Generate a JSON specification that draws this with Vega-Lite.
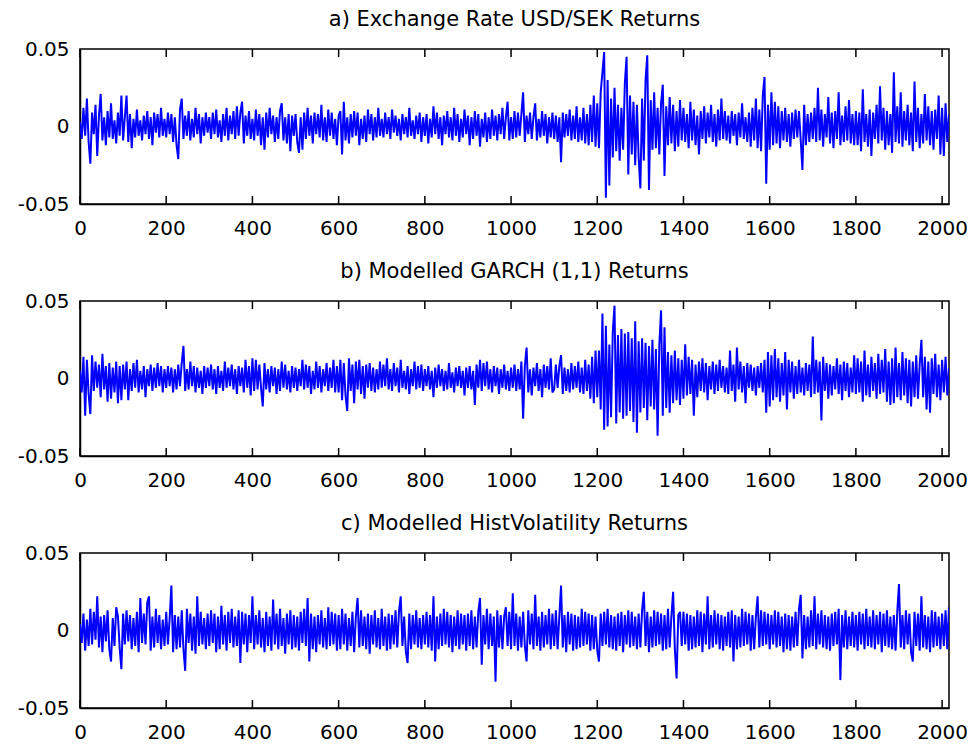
{
"$schema": "https://vega.github.io/schema/vega-lite/v6.json",
"background": "white",
"padding": {"left": 16, "top": 8, "right": 6, "bottom": 4},
"bounds": "flush",
"spacing": 97,
"config": {
"view": {"stroke": "black", "strokeWidth": 1.5},
"font": "DejaVu Sans",
"title": {"font": "DejaVu Sans", "fontSize": 21, "fontWeight": "normal", "color": "black", "offset": 9, "anchor": "middle"},
"axis": {"labelFont": "DejaVu Sans", "labelFontSize": 20, "labelColor": "black", "domainColor": "black", "domainWidth": 1.5, "ticks": false, "grid": false, "labelFlush": false, "labelOverlap": false}
},
"datasets": {
"ticks": [{"t":0},{"t":200},{"t":400},{"t":600},{"t":800},{"t":1000},{"t":1200},{"t":1400},{"t":1600},{"t":1800},{"t":2000}]
},
"data": {"values": [
{"x":0,"a":0.003,"b":0.005,"c":0.004},{"x":4,"a":-0.008,"b":-0.009,"c":-0.008},{"x":8,"a":0.012,"b":0.014,"c":0.011},{"x":12,"a":-0.006,"b":-0.024,"c":-0.013},{"x":16,"a":0.018,"b":0.012,"c":0.007},{"x":20,"a":-0.01,"b":-0.01,"c":-0.01},{"x":24,"a":-0.024,"b":-0.023,"c":0.014},{"x":28,"a":0.009,"b":0.015,"c":-0.009},{"x":32,"a":-0.005,"b":-0.008,"c":0.012},{"x":36,"a":0.014,"b":0.011,"c":-0.006},{"x":40,"a":-0.019,"b":-0.006,"c":0.022},{"x":44,"a":0.007,"b":0.009,"c":-0.011},{"x":48,"a":0.021,"b":-0.012,"c":0.009},{"x":52,"a":-0.009,"b":0.016,"c":-0.014},{"x":56,"a":0.006,"b":-0.007,"c":0.01},{"x":60,"a":-0.012,"b":0.008,"c":-0.007},{"x":64,"a":0.01,"b":-0.015,"c":0.013},{"x":68,"a":-0.007,"b":0.01,"c":-0.012},{"x":72,"a":0.015,"b":-0.013,"c":-0.02},{"x":76,"a":-0.008,"b":0.007,"c":0.008},{"x":80,"a":0.004,"b":-0.009,"c":-0.01},{"x":84,"a":-0.011,"b":0.011,"c":0.015},{"x":88,"a":0.009,"b":-0.016,"c":0.009},{"x":92,"a":-0.006,"b":0.008,"c":-0.011},{"x":96,"a":0.02,"b":-0.014,"c":-0.025},
{"x":100,"a":-0.009,"b":0.009,"c":0.011},{"x":104,"a":0.006,"b":-0.007,"c":-0.009},{"x":108,"a":0.02,"b":0.011,"c":0.013},{"x":112,"a":-0.01,"b":-0.014,"c":-0.007},{"x":116,"a":0.008,"b":0.006,"c":0.01},{"x":120,"a":-0.014,"b":-0.008,"c":-0.012},{"x":124,"a":0.005,"b":0.01,"c":0.008},{"x":128,"a":-0.007,"b":-0.006,"c":-0.01},{"x":132,"a":0.011,"b":0.012,"c":0.012},{"x":136,"a":-0.006,"b":-0.009,"c":-0.014},{"x":140,"a":0.004,"b":0.005,"c":0.021},{"x":144,"a":-0.009,"b":-0.007,"c":-0.008},{"x":148,"a":0.007,"b":0.008,"c":0.011},{"x":152,"a":-0.005,"b":-0.012,"c":-0.009},{"x":156,"a":0.01,"b":0.006,"c":0.018},{"x":160,"a":-0.008,"b":-0.005,"c":0.022},{"x":164,"a":0.006,"b":0.009,"c":-0.013},{"x":168,"a":-0.012,"b":-0.008,"c":0.009},{"x":172,"a":0.009,"b":0.007,"c":-0.011},{"x":176,"a":-0.004,"b":-0.006,"c":0.014},{"x":180,"a":0.008,"b":0.01,"c":-0.008},{"x":184,"a":-0.007,"b":-0.005,"c":0.01},{"x":188,"a":0.012,"b":0.008,"c":-0.012},{"x":192,"a":-0.006,"b":-0.009,"c":0.007},{"x":196,"a":0.005,"b":0.006,"c":-0.01},
{"x":200,"a":-0.007,"b":-0.006,"c":0.012},{"x":204,"a":0.009,"b":0.008,"c":-0.009},{"x":208,"a":-0.005,"b":-0.005,"c":0.008},{"x":212,"a":0.008,"b":0.007,"c":0.029},{"x":216,"a":-0.01,"b":-0.009,"c":-0.014},{"x":220,"a":0.006,"b":0.006,"c":0.01},{"x":224,"a":-0.012,"b":-0.007,"c":-0.012},{"x":228,"a":-0.021,"b":0.009,"c":0.009},{"x":232,"a":0.011,"b":-0.005,"c":-0.011},{"x":236,"a":0.018,"b":0.01,"c":0.013},{"x":240,"a":-0.008,"b":0.021,"c":-0.012},{"x":244,"a":0.007,"b":-0.008,"c":-0.026},{"x":248,"a":-0.006,"b":0.006,"c":0.014},{"x":252,"a":0.01,"b":-0.007,"c":-0.008},{"x":256,"a":-0.009,"b":0.011,"c":0.011},{"x":260,"a":0.005,"b":-0.005,"c":-0.013},{"x":264,"a":-0.007,"b":0.008,"c":0.009},{"x":268,"a":0.012,"b":-0.009,"c":-0.015},{"x":272,"a":-0.005,"b":0.007,"c":0.022},{"x":276,"a":0.008,"b":-0.006,"c":-0.01},{"x":280,"a":-0.011,"b":0.005,"c":0.012},{"x":284,"a":0.006,"b":-0.01,"c":-0.009},{"x":288,"a":-0.006,"b":0.008,"c":0.008},{"x":292,"a":0.009,"b":-0.006,"c":-0.012},{"x":296,"a":-0.004,"b":0.007,"c":0.011},
{"x":300,"a":0.006,"b":-0.005,"c":-0.01},{"x":304,"a":-0.008,"b":0.009,"c":0.013},{"x":308,"a":0.009,"b":-0.007,"c":-0.008},{"x":312,"a":-0.005,"b":0.006,"c":0.011},{"x":316,"a":0.011,"b":-0.01,"c":-0.014},{"x":320,"a":-0.007,"b":0.008,"c":0.009},{"x":324,"a":0.004,"b":-0.006,"c":-0.012},{"x":328,"a":-0.01,"b":0.005,"c":0.016},{"x":332,"a":0.008,"b":-0.008,"c":-0.009},{"x":336,"a":-0.006,"b":0.011,"c":0.01},{"x":340,"a":0.012,"b":-0.006,"c":-0.013},{"x":344,"a":-0.009,"b":0.007,"c":0.012},{"x":348,"a":0.007,"b":-0.005,"c":-0.008},{"x":352,"a":-0.005,"b":0.009,"c":0.014},{"x":356,"a":0.01,"b":-0.007,"c":-0.011},{"x":360,"a":-0.008,"b":0.006,"c":0.009},{"x":364,"a":0.013,"b":-0.01,"c":-0.01},{"x":368,"a":-0.006,"b":0.008,"c":0.013},{"x":372,"a":0.009,"b":-0.005,"c":-0.021},{"x":376,"a":0.016,"b":0.007,"c":0.012},{"x":380,"a":-0.011,"b":-0.009,"c":-0.009},{"x":384,"a":0.007,"b":0.012,"c":0.011},{"x":388,"a":-0.006,"b":-0.006,"c":-0.014},{"x":392,"a":0.01,"b":0.008,"c":0.01},{"x":396,"a":-0.008,"b":-0.011,"c":-0.008},
{"x":400,"a":0.005,"b":0.013,"c":0.022},{"x":404,"a":-0.009,"b":-0.008,"c":-0.012},{"x":408,"a":0.011,"b":0.012,"c":0.01},{"x":412,"a":-0.006,"b":-0.007,"c":-0.009},{"x":416,"a":0.008,"b":0.009,"c":0.013},{"x":420,"a":-0.012,"b":-0.006,"c":-0.011},{"x":424,"a":0.006,"b":-0.018,"c":0.008},{"x":428,"a":-0.015,"b":0.01,"c":-0.014},{"x":432,"a":0.009,"b":-0.007,"c":0.012},{"x":436,"a":-0.007,"b":0.006,"c":-0.01},{"x":440,"a":0.012,"b":-0.009,"c":0.009},{"x":444,"a":-0.005,"b":0.008,"c":-0.013},{"x":448,"a":0.007,"b":-0.005,"c":0.02},{"x":452,"a":-0.01,"b":0.007,"c":-0.009},{"x":456,"a":0.006,"b":-0.01,"c":0.011},{"x":460,"a":-0.008,"b":0.006,"c":-0.012},{"x":464,"a":0.01,"b":-0.008,"c":0.014},{"x":468,"a":0.015,"b":0.011,"c":-0.01},{"x":472,"a":-0.009,"b":-0.006,"c":0.008},{"x":476,"a":0.006,"b":0.009,"c":-0.015},{"x":480,"a":-0.011,"b":-0.007,"c":0.011},{"x":484,"a":0.008,"b":0.005,"c":-0.009},{"x":488,"a":-0.016,"b":-0.009,"c":0.013},{"x":492,"a":0.007,"b":0.008,"c":-0.012},{"x":496,"a":-0.006,"b":-0.006,"c":0.01},
{"x":500,"a":0.008,"b":0.007,"c":-0.011},{"x":504,"a":-0.01,"b":-0.008,"c":0.009},{"x":508,"a":-0.017,"b":0.006,"c":-0.013},{"x":512,"a":0.006,"b":-0.005,"c":0.012},{"x":516,"a":-0.015,"b":0.012,"c":-0.008},{"x":520,"a":0.009,"b":-0.007,"c":0.014},{"x":524,"a":-0.008,"b":0.009,"c":-0.01},{"x":528,"a":0.012,"b":-0.006,"c":0.021},{"x":532,"a":-0.006,"b":0.008,"c":-0.02},{"x":536,"a":0.007,"b":-0.01,"c":0.011},{"x":540,"a":-0.011,"b":0.005,"c":-0.012},{"x":544,"a":0.009,"b":-0.007,"c":0.009},{"x":548,"a":-0.005,"b":0.011,"c":-0.014},{"x":552,"a":0.008,"b":-0.006,"c":0.01},{"x":556,"a":-0.007,"b":0.008,"c":-0.009},{"x":560,"a":0.014,"b":-0.009,"c":0.013},{"x":564,"a":-0.009,"b":0.006,"c":-0.011},{"x":568,"a":0.006,"b":-0.005,"c":0.008},{"x":572,"a":-0.01,"b":0.01,"c":-0.012},{"x":576,"a":0.011,"b":-0.008,"c":0.015},{"x":580,"a":-0.006,"b":0.007,"c":-0.01},{"x":584,"a":0.009,"b":-0.006,"c":0.012},{"x":588,"a":-0.008,"b":0.012,"c":-0.009},{"x":592,"a":0.005,"b":-0.009,"c":0.011},{"x":596,"a":-0.012,"b":0.008,"c":-0.013},
{"x":600,"a":0.007,"b":-0.009,"c":0.01},{"x":604,"a":0.01,"b":0.012,"c":-0.012},{"x":608,"a":-0.018,"b":-0.014,"c":0.014},{"x":612,"a":0.016,"b":0.01,"c":-0.009},{"x":616,"a":-0.009,"b":-0.011,"c":0.011},{"x":620,"a":0.006,"b":-0.021,"c":-0.013},{"x":624,"a":-0.011,"b":0.013,"c":0.008},{"x":628,"a":0.008,"b":-0.008,"c":-0.01},{"x":632,"a":-0.007,"b":0.009,"c":0.012},{"x":636,"a":0.01,"b":-0.016,"c":-0.014},{"x":640,"a":-0.006,"b":0.011,"c":0.009},{"x":644,"a":0.009,"b":-0.007,"c":0.021},{"x":648,"a":-0.012,"b":0.012,"c":-0.011},{"x":652,"a":0.005,"b":-0.01,"c":0.013},{"x":656,"a":-0.008,"b":0.008,"c":-0.01},{"x":660,"a":0.007,"b":-0.013,"c":0.009},{"x":664,"a":-0.01,"b":0.009,"c":-0.012},{"x":668,"a":0.011,"b":-0.006,"c":0.011},{"x":672,"a":-0.005,"b":0.01,"c":-0.015},{"x":676,"a":0.008,"b":-0.008,"c":0.01},{"x":680,"a":-0.009,"b":0.007,"c":-0.009},{"x":684,"a":0.006,"b":-0.009,"c":0.013},{"x":688,"a":-0.007,"b":0.006,"c":-0.011},{"x":692,"a":0.012,"b":-0.007,"c":0.008},{"x":696,"a":-0.006,"b":0.011,"c":-0.012},
{"x":700,"a":0.005,"b":-0.006,"c":0.014},{"x":704,"a":-0.007,"b":0.009,"c":-0.01},{"x":708,"a":0.009,"b":-0.005,"c":0.009},{"x":712,"a":-0.005,"b":0.013,"c":-0.013},{"x":716,"a":0.006,"b":-0.007,"c":0.011},{"x":720,"a":-0.008,"b":0.006,"c":-0.012},{"x":724,"a":0.011,"b":-0.008,"c":0.01},{"x":728,"a":-0.004,"b":0.01,"c":-0.009},{"x":732,"a":0.007,"b":-0.005,"c":0.013},{"x":736,"a":-0.006,"b":0.007,"c":-0.011},{"x":740,"a":0.005,"b":-0.009,"c":0.012},{"x":744,"a":-0.009,"b":0.012,"c":0.022},{"x":748,"a":0.008,"b":-0.006,"c":-0.01},{"x":752,"a":-0.005,"b":0.005,"c":0.009},{"x":756,"a":0.006,"b":-0.007,"c":-0.014},{"x":760,"a":-0.007,"b":0.008,"c":-0.021},{"x":764,"a":0.012,"b":-0.01,"c":0.011},{"x":768,"a":-0.006,"b":0.006,"c":-0.012},{"x":772,"a":0.004,"b":-0.005,"c":0.01},{"x":776,"a":-0.008,"b":0.011,"c":-0.009},{"x":780,"a":0.007,"b":-0.007,"c":0.013},{"x":784,"a":-0.005,"b":0.008,"c":-0.011},{"x":788,"a":0.009,"b":-0.006,"c":0.008},{"x":792,"a":-0.01,"b":0.009,"c":-0.012},{"x":796,"a":0.006,"b":-0.008,"c":0.01},
{"x":800,"a":-0.006,"b":0.006,"c":-0.009},{"x":804,"a":0.008,"b":-0.005,"c":0.012},{"x":808,"a":-0.011,"b":0.008,"c":-0.011},{"x":812,"a":0.005,"b":-0.007,"c":0.01},{"x":816,"a":-0.007,"b":0.005,"c":-0.013},{"x":820,"a":0.013,"b":-0.012,"c":0.022},{"x":824,"a":-0.005,"b":0.007,"c":-0.02},{"x":828,"a":0.009,"b":-0.006,"c":0.009},{"x":832,"a":-0.008,"b":0.009,"c":-0.012},{"x":836,"a":0.006,"b":-0.005,"c":0.011},{"x":840,"a":-0.012,"b":0.006,"c":-0.01},{"x":844,"a":0.007,"b":-0.008,"c":0.014},{"x":848,"a":-0.005,"b":0.005,"c":-0.009},{"x":852,"a":0.01,"b":-0.007,"c":0.012},{"x":856,"a":-0.007,"b":0.01,"c":-0.011},{"x":860,"a":0.006,"b":-0.006,"c":0.01},{"x":864,"a":-0.009,"b":0.004,"c":-0.014},{"x":868,"a":0.012,"b":-0.009,"c":0.009},{"x":872,"a":-0.006,"b":0.007,"c":-0.01},{"x":876,"a":0.008,"b":-0.005,"c":0.013},{"x":880,"a":-0.01,"b":0.008,"c":-0.012},{"x":884,"a":0.005,"b":-0.006,"c":0.011},{"x":888,"a":-0.007,"b":0.005,"c":-0.009},{"x":892,"a":0.011,"b":-0.011,"c":0.01},{"x":896,"a":-0.005,"b":0.007,"c":-0.013},
{"x":900,"a":0.007,"b":-0.006,"c":0.011},{"x":904,"a":-0.012,"b":0.008,"c":-0.01},{"x":908,"a":0.006,"b":-0.007,"c":0.013},{"x":912,"a":-0.008,"b":0.005,"c":-0.012},{"x":916,"a":0.01,"b":-0.017,"c":0.009},{"x":920,"a":-0.006,"b":0.009,"c":-0.011},{"x":924,"a":0.008,"b":-0.006,"c":0.012},{"x":928,"a":-0.013,"b":0.012,"c":0.021},{"x":932,"a":0.005,"b":-0.008,"c":-0.022},{"x":936,"a":-0.007,"b":0.01,"c":0.01},{"x":940,"a":0.009,"b":-0.005,"c":-0.009},{"x":944,"a":-0.01,"b":0.011,"c":0.014},{"x":948,"a":0.006,"b":-0.007,"c":-0.012},{"x":952,"a":-0.008,"b":0.006,"c":0.011},{"x":956,"a":0.011,"b":-0.009,"c":-0.01},{"x":960,"a":-0.006,"b":0.008,"c":0.009},{"x":964,"a":0.007,"b":-0.005,"c":-0.033},{"x":968,"a":-0.009,"b":0.007,"c":0.013},{"x":972,"a":0.008,"b":-0.01,"c":-0.011},{"x":976,"a":-0.005,"b":0.006,"c":0.01},{"x":980,"a":0.012,"b":-0.006,"c":-0.012},{"x":984,"a":-0.008,"b":0.009,"c":0.009},{"x":988,"a":0.006,"b":-0.007,"c":0.015},{"x":992,"a":0.016,"b":0.005,"c":-0.01},{"x":996,"a":-0.009,"b":-0.008,"c":0.012},
{"x":1000,"a":0.006,"b":0.007,"c":-0.012},{"x":1004,"a":-0.008,"b":-0.006,"c":0.024},{"x":1008,"a":0.01,"b":0.009,"c":-0.01},{"x":1012,"a":-0.007,"b":-0.008,"c":0.011},{"x":1016,"a":0.009,"b":0.006,"c":-0.013},{"x":1020,"a":-0.006,"b":-0.007,"c":0.009},{"x":1024,"a":0.008,"b":0.011,"c":-0.011},{"x":1028,"a":0.022,"b":-0.026,"c":0.012},{"x":1032,"a":-0.01,"b":0.008,"c":-0.01},{"x":1036,"a":0.007,"b":0.02,"c":-0.02},{"x":1040,"a":-0.005,"b":-0.009,"c":0.013},{"x":1044,"a":0.009,"b":0.006,"c":-0.009},{"x":1048,"a":-0.008,"b":-0.011,"c":0.011},{"x":1052,"a":0.006,"b":0.007,"c":-0.012},{"x":1056,"a":0.015,"b":-0.005,"c":0.023},{"x":1060,"a":-0.009,"b":0.01,"c":-0.01},{"x":1064,"a":0.005,"b":-0.008,"c":0.009},{"x":1068,"a":-0.007,"b":0.006,"c":-0.013},{"x":1072,"a":0.01,"b":-0.012,"c":0.012},{"x":1076,"a":-0.006,"b":0.009,"c":-0.011},{"x":1080,"a":0.008,"b":-0.006,"c":0.01},{"x":1084,"a":-0.011,"b":0.008,"c":-0.009},{"x":1088,"a":0.006,"b":-0.007,"c":0.014},{"x":1092,"a":-0.007,"b":0.013,"c":-0.012},{"x":1096,"a":0.009,"b":-0.009,"c":0.011},
{"x":1100,"a":-0.008,"b":-0.007,"c":-0.01},{"x":1104,"a":0.007,"b":0.009,"c":0.013},{"x":1108,"a":-0.01,"b":-0.006,"c":-0.012},{"x":1112,"a":0.006,"b":0.008,"c":0.009},{"x":1116,"a":-0.023,"b":0.015,"c":0.029},{"x":1120,"a":0.009,"b":-0.01,"c":-0.011},{"x":1124,"a":-0.007,"b":0.007,"c":0.01},{"x":1128,"a":0.008,"b":-0.008,"c":-0.014},{"x":1132,"a":-0.006,"b":0.006,"c":0.012},{"x":1136,"a":0.011,"b":-0.009,"c":-0.009},{"x":1140,"a":-0.009,"b":0.01,"c":0.011},{"x":1144,"a":0.007,"b":-0.007,"c":-0.013},{"x":1148,"a":-0.008,"b":0.008,"c":0.01},{"x":1152,"a":0.013,"b":-0.006,"c":-0.012},{"x":1156,"a":-0.01,"b":0.011,"c":0.009},{"x":1160,"a":0.006,"b":-0.009,"c":-0.011},{"x":1164,"a":-0.009,"b":0.007,"c":0.014},{"x":1168,"a":0.012,"b":-0.01,"c":-0.01},{"x":1172,"a":-0.011,"b":0.012,"c":0.012},{"x":1176,"a":0.008,"b":-0.008,"c":-0.009},{"x":1180,"a":-0.012,"b":0.009,"c":0.011},{"x":1184,"a":0.014,"b":-0.013,"c":-0.013},{"x":1188,"a":-0.01,"b":0.014,"c":0.01},{"x":1192,"a":0.02,"b":-0.016,"c":-0.012},{"x":1196,"a":-0.013,"b":0.018,"c":0.009},
{"x":1200,"a":0.015,"b":-0.012,"c":-0.013},{"x":1204,"a":-0.014,"b":0.018,"c":-0.02},{"x":1208,"a":0.022,"b":-0.02,"c":0.011},{"x":1212,"a":0.035,"b":0.042,"c":-0.01},{"x":1216,"a":0.048,"b":-0.033,"c":0.012},{"x":1220,"a":-0.046,"b":0.034,"c":-0.009},{"x":1224,"a":0.03,"b":-0.031,"c":0.014},{"x":1228,"a":-0.038,"b":0.022,"c":-0.011},{"x":1232,"a":0.018,"b":-0.025,"c":0.01},{"x":1236,"a":-0.02,"b":0.03,"c":-0.012},{"x":1240,"a":0.025,"b":0.047,"c":0.009},{"x":1244,"a":-0.016,"b":-0.029,"c":-0.013},{"x":1248,"a":0.014,"b":0.028,"c":0.011},{"x":1252,"a":-0.022,"b":-0.022,"c":-0.01},{"x":1256,"a":0.012,"b":0.032,"c":0.012},{"x":1260,"a":-0.015,"b":-0.026,"c":-0.014},{"x":1264,"a":0.028,"b":0.029,"c":0.01},{"x":1268,"a":0.045,"b":-0.024,"c":-0.009},{"x":1272,"a":-0.031,"b":0.03,"c":0.013},{"x":1276,"a":0.02,"b":-0.021,"c":-0.011},{"x":1280,"a":-0.018,"b":0.026,"c":0.012},{"x":1284,"a":0.016,"b":-0.028,"c":-0.01},{"x":1288,"a":-0.025,"b":0.037,"c":0.009},{"x":1292,"a":0.014,"b":-0.035,"c":-0.012},{"x":1296,"a":-0.02,"b":0.024,"c":0.011},
{"x":1300,"a":-0.04,"b":-0.022,"c":-0.011},{"x":1304,"a":0.018,"b":0.026,"c":0.013},{"x":1308,"a":-0.022,"b":-0.019,"c":0.025},{"x":1312,"a":0.03,"b":0.023,"c":-0.01},{"x":1316,"a":0.046,"b":-0.027,"c":0.012},{"x":1320,"a":-0.041,"b":0.021,"c":-0.014},{"x":1324,"a":0.017,"b":-0.018,"c":0.009},{"x":1328,"a":-0.015,"b":0.025,"c":-0.011},{"x":1332,"a":0.022,"b":-0.02,"c":0.013},{"x":1336,"a":-0.014,"b":0.019,"c":-0.01},{"x":1340,"a":0.012,"b":-0.037,"c":0.012},{"x":1344,"a":-0.018,"b":0.022,"c":-0.009},{"x":1348,"a":0.015,"b":0.044,"c":0.011},{"x":1352,"a":0.027,"b":-0.024,"c":-0.013},{"x":1356,"a":-0.032,"b":0.033,"c":0.01},{"x":1360,"a":0.013,"b":-0.019,"c":-0.012},{"x":1364,"a":-0.012,"b":0.017,"c":0.014},{"x":1368,"a":0.019,"b":-0.022,"c":-0.011},{"x":1372,"a":-0.011,"b":0.015,"c":0.009},{"x":1376,"a":0.014,"b":-0.016,"c":0.025},{"x":1380,"a":-0.016,"b":0.018,"c":-0.012},{"x":1384,"a":0.01,"b":-0.014,"c":-0.031},{"x":1388,"a":-0.013,"b":0.013,"c":0.01},{"x":1392,"a":0.017,"b":-0.017,"c":0.012},{"x":1396,"a":-0.009,"b":0.012,"c":-0.01},
{"x":1400,"a":0.012,"b":-0.013,"c":0.012},{"x":1404,"a":-0.01,"b":0.022,"c":-0.009},{"x":1408,"a":0.008,"b":-0.011,"c":0.011},{"x":1412,"a":-0.014,"b":0.014,"c":-0.013},{"x":1416,"a":0.016,"b":-0.01,"c":0.01},{"x":1420,"a":-0.009,"b":0.012,"c":-0.012},{"x":1424,"a":0.011,"b":-0.024,"c":0.009},{"x":1428,"a":-0.012,"b":0.009,"c":-0.011},{"x":1432,"a":0.007,"b":-0.012,"c":0.013},{"x":1436,"a":-0.018,"b":0.011,"c":-0.01},{"x":1440,"a":0.01,"b":-0.008,"c":0.012},{"x":1444,"a":-0.008,"b":0.013,"c":-0.014},{"x":1448,"a":0.013,"b":-0.009,"c":0.011},{"x":1452,"a":-0.011,"b":0.01,"c":-0.009},{"x":1456,"a":0.009,"b":-0.014,"c":0.022},{"x":1460,"a":-0.007,"b":0.008,"c":-0.012},{"x":1464,"a":0.014,"b":-0.007,"c":0.01},{"x":1468,"a":-0.01,"b":0.011,"c":-0.011},{"x":1472,"a":0.008,"b":-0.01,"c":0.013},{"x":1476,"a":-0.013,"b":0.009,"c":-0.009},{"x":1480,"a":0.011,"b":-0.008,"c":0.011},{"x":1484,"a":-0.009,"b":0.012,"c":-0.012},{"x":1488,"a":0.018,"b":-0.006,"c":0.01},{"x":1492,"a":-0.008,"b":0.008,"c":-0.013},{"x":1496,"a":0.01,"b":-0.009,"c":0.009},
{"x":1500,"a":-0.009,"b":0.007,"c":-0.01},{"x":1504,"a":0.007,"b":-0.01,"c":0.012},{"x":1508,"a":-0.011,"b":0.018,"c":-0.011},{"x":1512,"a":0.01,"b":-0.008,"c":0.013},{"x":1516,"a":-0.006,"b":0.009,"c":-0.02},{"x":1520,"a":0.008,"b":-0.015,"c":0.01},{"x":1524,"a":-0.012,"b":0.02,"c":-0.012},{"x":1528,"a":0.009,"b":-0.007,"c":0.009},{"x":1532,"a":-0.007,"b":0.011,"c":-0.011},{"x":1536,"a":0.015,"b":-0.009,"c":0.014},{"x":1540,"a":-0.008,"b":0.008,"c":-0.01},{"x":1544,"a":0.006,"b":-0.016,"c":0.012},{"x":1548,"a":-0.01,"b":0.01,"c":-0.009},{"x":1552,"a":0.009,"b":-0.006,"c":0.011},{"x":1556,"a":-0.013,"b":0.009,"c":-0.013},{"x":1560,"a":0.012,"b":-0.008,"c":0.01},{"x":1564,"a":-0.009,"b":0.007,"c":-0.012},{"x":1568,"a":0.018,"b":-0.011,"c":0.009},{"x":1572,"a":-0.014,"b":0.008,"c":0.022},{"x":1576,"a":0.011,"b":-0.006,"c":-0.011},{"x":1580,"a":-0.016,"b":0.01,"c":0.013},{"x":1584,"a":0.02,"b":-0.009,"c":-0.01},{"x":1588,"a":0.032,"b":0.012,"c":0.012},{"x":1592,"a":-0.037,"b":-0.022,"c":-0.009},{"x":1596,"a":0.014,"b":0.017,"c":0.011},
{"x":1600,"a":-0.015,"b":-0.018,"c":-0.012},{"x":1604,"a":0.022,"b":0.015,"c":0.01},{"x":1608,"a":-0.012,"b":-0.014,"c":-0.009},{"x":1612,"a":0.016,"b":0.019,"c":0.013},{"x":1616,"a":-0.011,"b":-0.012,"c":-0.011},{"x":1620,"a":0.013,"b":0.013,"c":0.012},{"x":1624,"a":-0.014,"b":-0.015,"c":-0.01},{"x":1628,"a":0.01,"b":0.01,"c":0.009},{"x":1632,"a":-0.009,"b":-0.011,"c":-0.014},{"x":1636,"a":0.012,"b":0.017,"c":0.011},{"x":1640,"a":-0.01,"b":-0.02,"c":-0.012},{"x":1644,"a":0.008,"b":0.012,"c":0.01},{"x":1648,"a":-0.013,"b":-0.009,"c":-0.013},{"x":1652,"a":0.009,"b":0.011,"c":0.009},{"x":1656,"a":-0.008,"b":-0.013,"c":-0.011},{"x":1660,"a":0.011,"b":0.008,"c":0.012},{"x":1664,"a":-0.007,"b":-0.01,"c":-0.01},{"x":1668,"a":0.01,"b":0.012,"c":0.014},{"x":1672,"a":-0.009,"b":-0.009,"c":0.023},{"x":1676,"a":-0.028,"b":0.007,"c":-0.018},{"x":1680,"a":0.014,"b":-0.011,"c":0.01},{"x":1684,"a":-0.012,"b":0.01,"c":-0.012},{"x":1688,"a":0.008,"b":-0.008,"c":0.009},{"x":1692,"a":-0.01,"b":0.009,"c":-0.011},{"x":1696,"a":0.009,"b":-0.012,"c":0.013},
{"x":1700,"a":-0.008,"b":0.027,"c":-0.01},{"x":1704,"a":0.012,"b":-0.01,"c":0.022},{"x":1708,"a":-0.01,"b":0.012,"c":-0.012},{"x":1712,"a":0.025,"b":-0.009,"c":0.011},{"x":1716,"a":-0.009,"b":0.011,"c":-0.009},{"x":1720,"a":0.011,"b":-0.027,"c":0.013},{"x":1724,"a":-0.013,"b":0.014,"c":-0.011},{"x":1728,"a":0.008,"b":-0.008,"c":0.01},{"x":1732,"a":-0.007,"b":0.01,"c":-0.012},{"x":1736,"a":0.019,"b":-0.013,"c":0.009},{"x":1740,"a":-0.011,"b":0.009,"c":-0.013},{"x":1744,"a":0.009,"b":-0.011,"c":0.011},{"x":1748,"a":-0.014,"b":0.008,"c":-0.01},{"x":1752,"a":0.01,"b":-0.007,"c":0.012},{"x":1756,"a":-0.008,"b":0.013,"c":-0.009},{"x":1760,"a":0.022,"b":-0.01,"c":0.014},{"x":1764,"a":-0.012,"b":0.009,"c":-0.032},{"x":1768,"a":0.007,"b":-0.014,"c":0.01},{"x":1772,"a":-0.01,"b":0.011,"c":-0.011},{"x":1776,"a":0.013,"b":-0.008,"c":0.013},{"x":1780,"a":-0.009,"b":0.01,"c":-0.012},{"x":1784,"a":0.017,"b":-0.012,"c":0.009},{"x":1788,"a":-0.011,"b":0.007,"c":-0.01},{"x":1792,"a":0.008,"b":-0.009,"c":0.012},{"x":1796,"a":-0.012,"b":0.015,"c":-0.011},
{"x":1800,"a":0.01,"b":-0.01,"c":0.01},{"x":1804,"a":-0.012,"b":0.013,"c":-0.013},{"x":1808,"a":0.009,"b":-0.009,"c":0.012},{"x":1812,"a":-0.016,"b":0.011,"c":-0.009},{"x":1816,"a":0.024,"b":-0.015,"c":0.011},{"x":1820,"a":-0.01,"b":0.018,"c":-0.012},{"x":1824,"a":0.008,"b":-0.011,"c":0.014},{"x":1828,"a":-0.013,"b":0.009,"c":-0.01},{"x":1832,"a":0.011,"b":-0.012,"c":0.009},{"x":1836,"a":-0.019,"b":0.014,"c":-0.011},{"x":1840,"a":0.009,"b":-0.008,"c":0.013},{"x":1844,"a":-0.008,"b":0.01,"c":-0.012},{"x":1848,"a":0.014,"b":-0.013,"c":0.01},{"x":1852,"a":-0.011,"b":0.016,"c":-0.009},{"x":1856,"a":0.026,"b":-0.01,"c":0.012},{"x":1860,"a":-0.009,"b":0.012,"c":-0.014},{"x":1864,"a":0.012,"b":-0.009,"c":0.011},{"x":1868,"a":-0.015,"b":0.019,"c":-0.01},{"x":1872,"a":0.01,"b":-0.015,"c":0.013},{"x":1876,"a":-0.012,"b":0.011,"c":-0.011},{"x":1880,"a":0.008,"b":-0.017,"c":0.009},{"x":1884,"a":-0.017,"b":0.013,"c":-0.012},{"x":1888,"a":0.035,"b":-0.016,"c":0.01},{"x":1892,"a":-0.01,"b":0.02,"c":-0.013},{"x":1896,"a":0.013,"b":-0.012,"c":0.012},
{"x":1900,"a":-0.011,"b":0.01,"c":0.03},{"x":1904,"a":0.022,"b":-0.014,"c":-0.011},{"x":1908,"a":-0.013,"b":0.017,"c":0.01},{"x":1912,"a":0.01,"b":-0.011,"c":-0.012},{"x":1916,"a":-0.009,"b":0.013,"c":0.013},{"x":1920,"a":0.014,"b":-0.016,"c":-0.009},{"x":1924,"a":-0.012,"b":0.012,"c":0.011},{"x":1928,"a":0.009,"b":-0.018,"c":-0.014},{"x":1932,"a":-0.016,"b":0.011,"c":-0.02},{"x":1936,"a":0.029,"b":-0.012,"c":0.012},{"x":1940,"a":-0.01,"b":0.015,"c":-0.01},{"x":1944,"a":0.012,"b":-0.013,"c":0.011},{"x":1948,"a":-0.014,"b":0.009,"c":-0.013},{"x":1952,"a":0.008,"b":0.025,"c":0.022},{"x":1956,"a":-0.011,"b":-0.012,"c":-0.011},{"x":1960,"a":0.021,"b":0.014,"c":0.01},{"x":1964,"a":-0.009,"b":-0.02,"c":-0.012},{"x":1968,"a":0.013,"b":0.011,"c":0.009},{"x":1972,"a":-0.012,"b":-0.022,"c":-0.014},{"x":1976,"a":0.01,"b":0.013,"c":0.013},{"x":1980,"a":-0.015,"b":-0.01,"c":-0.011},{"x":1984,"a":0.011,"b":0.016,"c":0.012},{"x":1988,"a":-0.008,"b":-0.012,"c":-0.01},{"x":1992,"a":0.02,"b":0.009,"c":0.009},{"x":1996,"a":-0.018,"b":-0.014,"c":-0.012},
{"x":2000,"a":0.012,"b":0.012,"c":0.011},{"x":2004,"a":-0.019,"b":-0.009,"c":-0.01},{"x":2008,"a":0.015,"b":0.014,"c":0.013},{"x":2012,"a":-0.01,"b":-0.011,"c":-0.012},{"x":2016,"a":0.008,"b":0.007,"c":0.015}
]},
"vconcat": [
{"title": "a) Exchange Rate USD/SEK Returns", "width": 869, "height": 155,
 "layer": [
  {"data": {"name": "ticks"}, "mark": {"type": "rule", "color": "black", "strokeWidth": 1.5},
   "encoding": {"x": {"field": "t", "type": "quantitative", "title": null}, "y": {"datum": -0.05}, "y2": {"datum": -0.0448}}},
  {"data": {"name": "ticks"}, "mark": {"type": "rule", "color": "black", "strokeWidth": 1.5},
   "encoding": {"x": {"field": "t", "type": "quantitative", "title": null}, "y": {"datum": 0.05}, "y2": {"datum": 0.0448}}},
  {"mark": {"type": "line", "color": "#0000ff", "strokeWidth": 2, "strokeJoin": "bevel", "clip": true},
   "encoding": {
    "x": {"field": "x", "type": "quantitative", "title": null, "scale": {"domain": [0, 2016], "nice": false, "zero": false}, "axis": {"orient": "bottom", "values": [0,200,400,600,800,1000,1200,1400,1600,1800,2000], "format": "d", "labelPadding": 14}},
    "y": {"field": "a", "type": "quantitative", "title": null, "scale": {"domain": [-0.05, 0.05], "nice": false}, "axis": {"orient": "left", "values": [-0.05, 0, 0.05], "labelPadding": 11, "labelExpr": "datum.value == 0 ? '0' : (datum.value < 0 ? '-' : '') + format(abs(datum.value), '.2f')"}}
   }}
 ]
},
{"title": "b) Modelled GARCH (1,1) Returns", "width": 869, "height": 155,
 "layer": [
  {"data": {"name": "ticks"}, "mark": {"type": "rule", "color": "black", "strokeWidth": 1.5},
   "encoding": {"x": {"field": "t", "type": "quantitative", "title": null}, "y": {"datum": -0.05}, "y2": {"datum": -0.0448}}},
  {"data": {"name": "ticks"}, "mark": {"type": "rule", "color": "black", "strokeWidth": 1.5},
   "encoding": {"x": {"field": "t", "type": "quantitative", "title": null}, "y": {"datum": 0.05}, "y2": {"datum": 0.0448}}},
  {"mark": {"type": "line", "color": "#0000ff", "strokeWidth": 2, "strokeJoin": "bevel", "clip": true},
   "encoding": {
    "x": {"field": "x", "type": "quantitative", "title": null, "scale": {"domain": [0, 2016], "nice": false, "zero": false}, "axis": {"orient": "bottom", "values": [0,200,400,600,800,1000,1200,1400,1600,1800,2000], "format": "d", "labelPadding": 14}},
    "y": {"field": "b", "type": "quantitative", "title": null, "scale": {"domain": [-0.05, 0.05], "nice": false}, "axis": {"orient": "left", "values": [-0.05, 0, 0.05], "labelPadding": 11, "labelExpr": "datum.value == 0 ? '0' : (datum.value < 0 ? '-' : '') + format(abs(datum.value), '.2f')"}}
   }}
 ]
},
{"title": "c) Modelled HistVolatility Returns", "width": 869, "height": 155,
 "layer": [
  {"data": {"name": "ticks"}, "mark": {"type": "rule", "color": "black", "strokeWidth": 1.5},
   "encoding": {"x": {"field": "t", "type": "quantitative", "title": null}, "y": {"datum": -0.05}, "y2": {"datum": -0.0448}}},
  {"data": {"name": "ticks"}, "mark": {"type": "rule", "color": "black", "strokeWidth": 1.5},
   "encoding": {"x": {"field": "t", "type": "quantitative", "title": null}, "y": {"datum": 0.05}, "y2": {"datum": 0.0448}}},
  {"mark": {"type": "line", "color": "#0000ff", "strokeWidth": 2, "strokeJoin": "bevel", "clip": true},
   "encoding": {
    "x": {"field": "x", "type": "quantitative", "title": null, "scale": {"domain": [0, 2016], "nice": false, "zero": false}, "axis": {"orient": "bottom", "values": [0,200,400,600,800,1000,1200,1400,1600,1800,2000], "format": "d", "labelPadding": 14}},
    "y": {"field": "c", "type": "quantitative", "title": null, "scale": {"domain": [-0.05, 0.05], "nice": false}, "axis": {"orient": "left", "values": [-0.05, 0, 0.05], "labelPadding": 11, "labelExpr": "datum.value == 0 ? '0' : (datum.value < 0 ? '-' : '') + format(abs(datum.value), '.2f')"}}
   }}
 ]
}
]
}
